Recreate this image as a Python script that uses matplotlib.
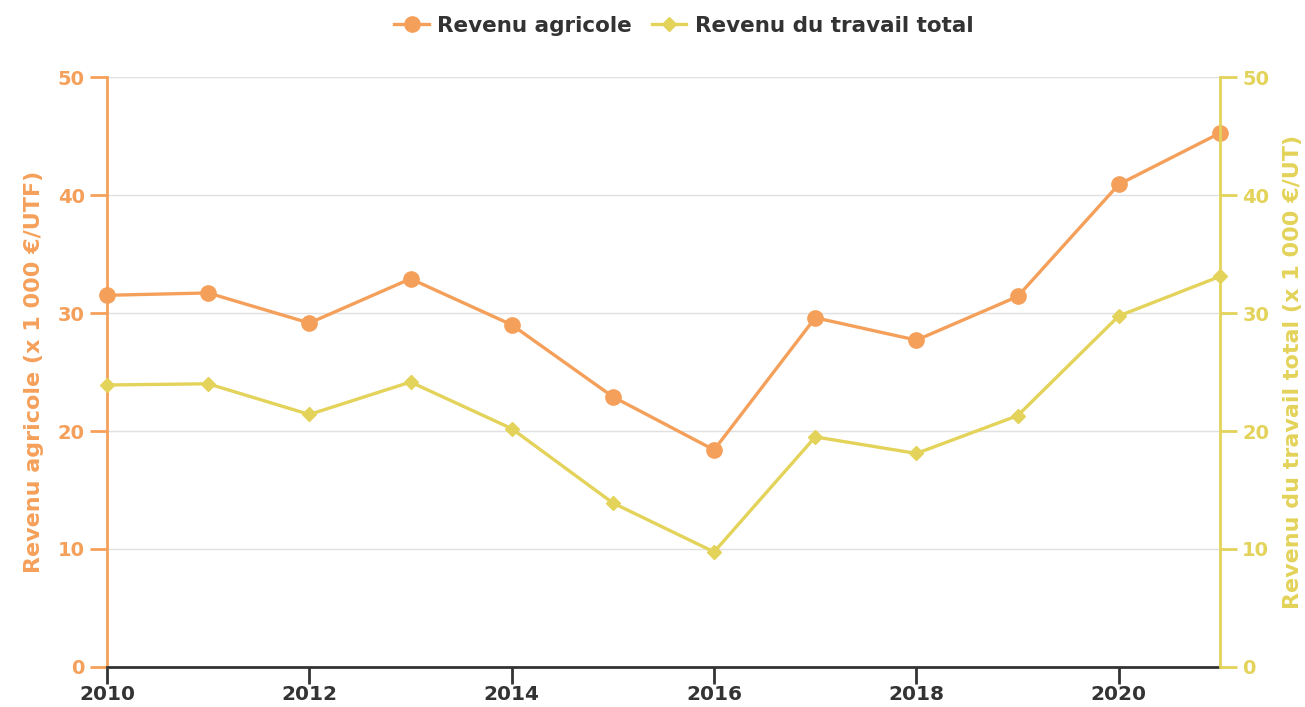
import matplotlib.pyplot as plt

years = [2010, 2011, 2012, 2013, 2014, 2015, 2016, 2017, 2018, 2019, 2020, 2021]
revenu_agricole = [31.5, 31.7, 29.15, 32.9, 29.0, 22.9, 18.4, 29.6, 27.7, 31.4, 40.9, 45.25]
revenu_travail = [23.9, 24.0, 21.4, 24.15, 20.2, 13.9, 9.75, 19.5, 18.1, 21.3, 29.75, 33.1]
xticks = [2010, 2012, 2014, 2016, 2018, 2020]
yticks = [0, 10, 20, 30, 40, 50]

orange = "#f5a05a"
yellow = "#e3d35a"
dark = "#333333"

plt.rcParams["font.family"] = "DejaVu Sans"
plt.rcParams["font.weight"] = "bold"

fig = plt.figure(figsize=(13.05, 7.07), dpi=100)
ax = fig.add_axes([107 / 1305, 40 / 707, 1113 / 1305, 590 / 707])
ax2 = ax.twinx()

l1, = ax.plot(years, revenu_agricole, color=orange, lw=2.4, marker="o", ms=11, label="Revenu agricole",
              clip_on=False, zorder=3)
l2, = ax2.plot(years, revenu_travail, color=yellow, lw=2.4, marker="D", ms=7, label="Revenu du travail total",
               clip_on=False, zorder=3)

for a in (ax, ax2):
    a.set_ylim(0, 50)
    a.set_yticks(yticks)
    a.spines["top"].set_visible(False)
ax.set_xlim(2010, 2021)
ax.set_xticks(xticks)
ax.yaxis.grid(True, color="#e0e0e0", lw=1)
ax.set_axisbelow(True)

ax.spines["left"].set_color(orange)
ax.spines["left"].set_linewidth(2)
ax.spines["right"].set_visible(False)
ax.spines["bottom"].set_color(dark)
ax.spines["bottom"].set_linewidth(2)
ax2.spines["right"].set_color(yellow)
ax2.spines["right"].set_linewidth(2)
ax2.spines["left"].set_visible(False)
ax2.spines["bottom"].set_visible(False)

ax.tick_params(axis="y", colors=orange, labelsize=14, length=12, width=2, pad=4)
ax2.tick_params(axis="y", colors=yellow, labelsize=14, length=12, width=2, pad=4)
ax.tick_params(axis="x", colors=dark, labelsize=14.5, length=12, width=2, pad=1)

ax.set_ylabel("Revenu agricole (x 1 000 €/UTF)", color=orange, fontsize=16, fontweight="bold", labelpad=10)
ax2.set_ylabel("Revenu du travail total (x 1 000 €/UT)", color=yellow, fontsize=16, fontweight="bold", labelpad=10)

leg = fig.legend(handles=[l1, l2], loc="upper center", bbox_to_anchor=(0.524, 1.005), ncol=2, frameon=False,
                 fontsize=15.5, handlelength=1.6, columnspacing=0.9, handletextpad=0.4)
for t in leg.get_texts():
    t.set_color(dark)

fig.savefig("out.png", dpi=100)
